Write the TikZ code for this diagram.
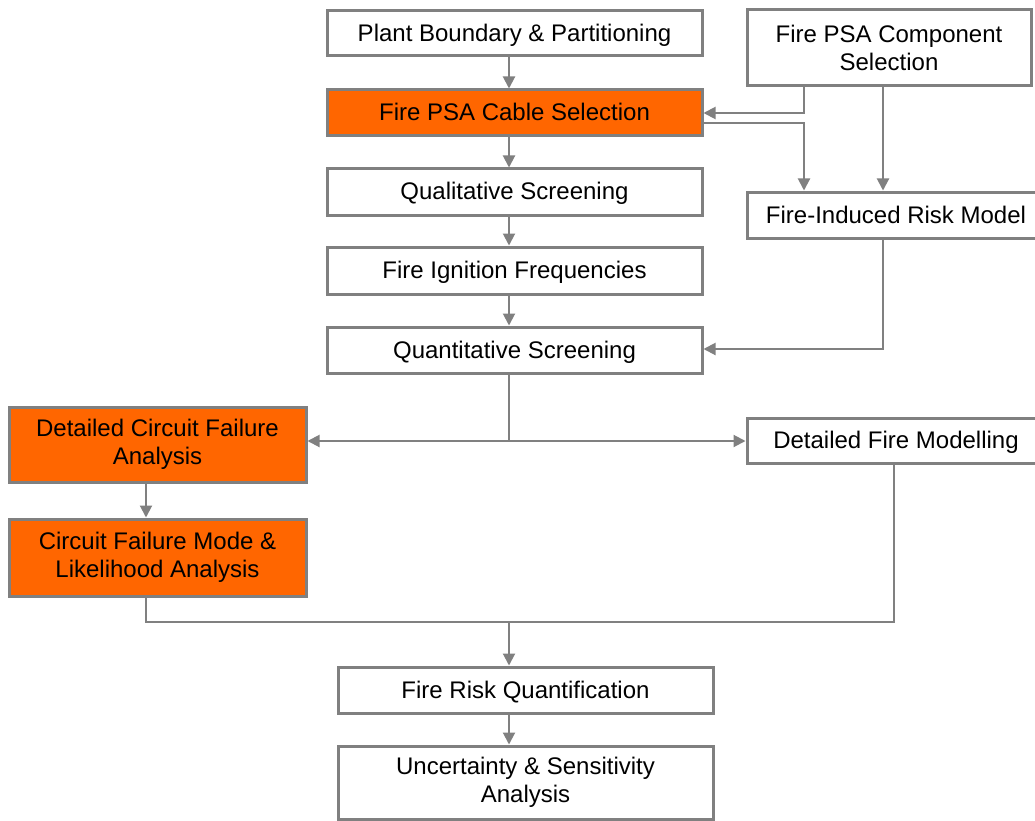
\documentclass[tikz,border=0pt]{standalone}
\usepackage{fontspec}
\setmainfont{Liberation Sans}
\usetikzlibrary{arrows.meta}
\definecolor{linegray}{RGB}{128,128,128}
\definecolor{fireorange}{RGB}{255,102,0}
\tikzset{
  box/.style={draw=linegray, line width=3pt, fill=white, inner sep=0pt,
    align=center, text=black, font=\fontsize{24}{28}\selectfont},
  one/.style={text height=17pt, text depth=1pt},
  hot/.style={box, fill=fireorange},
  link/.style={draw=linegray, line width=2pt},
  arr/.style={link, -{Triangle[length=12pt,width=12pt]}}
}
\begin{document}
\begin{tikzpicture}[x=1pt,y=-1pt]
\useasboundingbox (0,0) rectangle (1035,821);
\clip (0,0) rectangle (1035,821);
\fill[white] (0,0) rectangle (1035,821);

% process boxes
\node[box, one, minimum width=375pt, minimum height=45pt] (plant) at (514.5,33.5) {Plant Boundary \& Partitioning};
\node[box, minimum width=284pt, minimum height=76pt] (comp) at (889,48) {Fire PSA Component\\Selection};
\node[hot, one, minimum width=375pt, minimum height=46pt] (cable) at (514.5,113) {Fire PSA Cable Selection};
\node[box, one, minimum width=375pt, minimum height=46pt] (qual) at (514.5,192) {Qualitative Screening};
\node[box, one, minimum width=298pt, minimum height=46pt] (risk) at (896,215) {Fire-Induced Risk Model};
\node[box, one, minimum width=375pt, minimum height=47pt] (ign) at (514.5,270.5) {Fire Ignition Frequencies};
\node[box, one, minimum width=375pt, minimum height=46pt] (quant) at (514.5,350) {Quantitative Screening};
\node[hot, minimum width=297pt, minimum height=75pt] (dca) at (157.5,444.5) {Detailed Circuit Failure\\Analysis};
\node[box, one, minimum width=298pt, minimum height=45pt] (dfm) at (896,440.5) {Detailed Fire Modelling};
\node[hot, minimum width=297pt, minimum height=77pt] (cfm) at (157.5,557.5) {Circuit Failure Mode \&\\Likelihood Analysis};
\node[box, one, minimum width=375pt, minimum height=46pt] (frq) at (525.5,690) {Fire Risk Quantification};
\node[box, minimum width=375pt, minimum height=73pt] (unc) at (525.5,782.5) {Uncertainty \& Sensitivity\\Analysis};

% vertical guide lines for the connectors
\coordinate (main) at (509,0);
\coordinate (cx) at (804,0);
\coordinate (rx) at (883,0);
\coordinate (lx) at (146,0);
\coordinate (fx) at (894,0);
\coordinate (split) at (509,441);
\coordinate (join) at (509,622);

% main column
\draw[arr] (plant.south -| main) -- (cable.north -| main);
\draw[arr] (cable.south -| main) -- (qual.north -| main);
\draw[arr] (qual.south -| main) -- (ign.north -| main);
\draw[arr] (ign.south -| main) -- (quant.north -| main);

% component selection and risk model
\draw[arr] (comp.south -| cx) |- (cable.east);
\draw[arr] ([yshift=-10pt]cable.east) -| (risk.north -| cx);
\draw[arr] (comp.south -| rx) -- (risk.north -| rx);
\draw[arr] (risk.south -| rx) |- ([yshift=1pt]quant.east);

% branching after quantitative screening
\draw[link] (quant.south -| main) -- (split);
\draw[arr] (split) -- (split -| dca.east);
\draw[arr] (split) -- (split -| dfm.west);
\draw[arr] (dca.south -| lx) -- (cfm.north -| lx);

% merging into quantification
\draw[link] (cfm.south -| lx) |- (join);
\draw[link] (dfm.south -| fx) |- (join);
\draw[arr] (join) -- (frq.north -| main);
\draw[arr] (frq.south -| main) -- (unc.north -| main);
\end{tikzpicture}
\end{document}
